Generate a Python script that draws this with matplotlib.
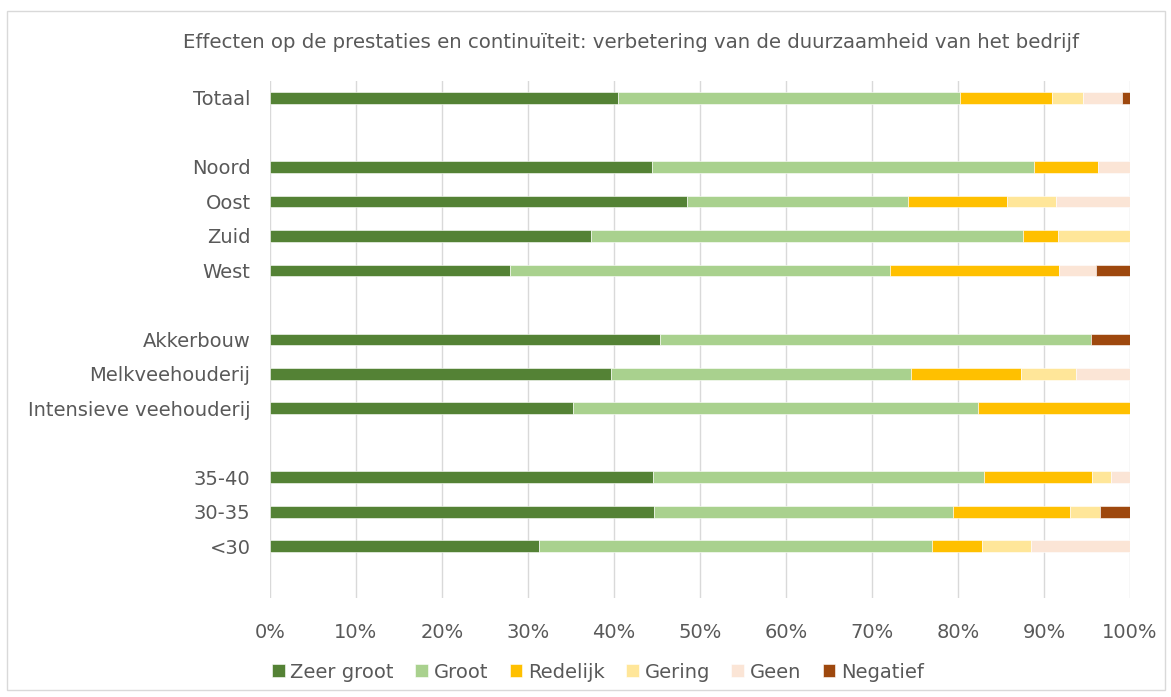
import matplotlib
matplotlib.use("Agg")
import matplotlib.pyplot as plt
from matplotlib.patches import Rectangle
import numpy as np

categories = ["Totaal", "", "Noord", "Oost", "Zuid", "West", "",
              "Akkerbouw", "Melkveehouderij", "Intensieve veehouderij", "",
              "35-40", "30-35", "<30", ""]

series_names = ["Zeer groot", "Groot", "Redelijk", "Gering", "Geen", "Negatief"]
zeer_groot = [40.5, 0, 44.4, 48.5, 37.3, 27.9, 0, 45.4, 39.6, 35.2, 0, 44.5, 44.7, 31.3, 0]
groot      = [39.7, 0, 44.4, 25.7, 50.2, 44.2, 0, 50.1, 34.9, 47.1, 0, 38.5, 34.7, 45.7, 0]
redelijk   = [10.7, 0,  7.5, 11.5,  4.1, 19.7, 0,  0.0, 12.8, 17.7, 0, 12.6, 13.6,  5.8, 0]
gering     = [ 3.6, 0,  0.0,  5.7,  8.4,  0.0, 0,  0.0,  6.4,  0.0, 0,  2.2,  3.5,  5.7, 0]
geen       = [ 4.6, 0,  3.7,  8.6,  0.0,  4.2, 0,  0.0,  6.3,  0.0, 0,  2.2,  0.0, 11.5, 0]
negatief   = [ 0.9, 0,  0.0,  0.0,  0.0,  4.0, 0,  4.5,  0.0,  0.0, 0,  0.0,  3.5,  0.0, 0]

colors = ["#548235", "#A9D18E", "#FFC000", "#FFE699", "#FBE5D6", "#9E480E"]
title = "Effecten op de prestaties en continuïteit: verbetering van de duurzaamheid van het bedrijf"
text_color = "#595959"

plt.rcParams['font.family'] = ['DejaVu Sans']

fig = plt.figure(figsize=(11.71, 6.97), dpi=100)
ax = fig.add_axes([270/1171, 1-598/697, 860/1171, (598-80.75)/697])

data = np.array([zeer_groot, groot, redelijk, gering, geen, negatief], dtype=float)
totals = data.sum(axis=0)
totals[totals == 0] = 1
pct = data / totals * 100
y = np.arange(len(categories))
left = np.zeros(len(categories))
for name, vals, c in zip(series_names, pct, colors):
    mask = vals > 0
    ax.barh(y[mask], vals[mask], left=left[mask], height=0.34, color=c, label=name,
            edgecolor="white", linewidth=0.4, zorder=3)
    left += vals

ax.set_xlim(0, 100)
ax.set_ylim(len(categories) - 0.5, -0.5)
ax.set_yticks(y)
ax.set_yticklabels(categories)
ax.set_xticks(np.arange(0, 101, 10))
ax.set_xticklabels([f"{v}%" for v in range(0, 101, 10)])
ax.tick_params(axis='both', length=0, labelsize=14, colors=text_color)
ax.tick_params(axis='y', pad=14)
ax.tick_params(axis='x', pad=18)
ax.grid(axis='x', color="#D9D9D9", linewidth=1, zorder=0)
ax.set_axisbelow(True)
for s in ax.spines.values():
    s.set_visible(False)

fig.text(631/1171, 1-42/697, title, ha='center', va='center', fontsize=14.2, color=text_color)

handles, labels = ax.get_legend_handles_labels()
leg = fig.legend(handles, labels, loc='center', bbox_to_anchor=(598/1171, 1-672/697),
                 ncol=6, frameon=False, fontsize=14, handlelength=0.65, handleheight=0.65,
                 handletextpad=0.3, columnspacing=1.1, labelcolor=text_color)

fig.patches.append(Rectangle((7/1171, 1-690/697), 1158/1171, 679/697, transform=fig.transFigure,
                             fill=False, edgecolor="#D9D9D9", linewidth=1))

fig.savefig("out.png", dpi=100, facecolor="white")
